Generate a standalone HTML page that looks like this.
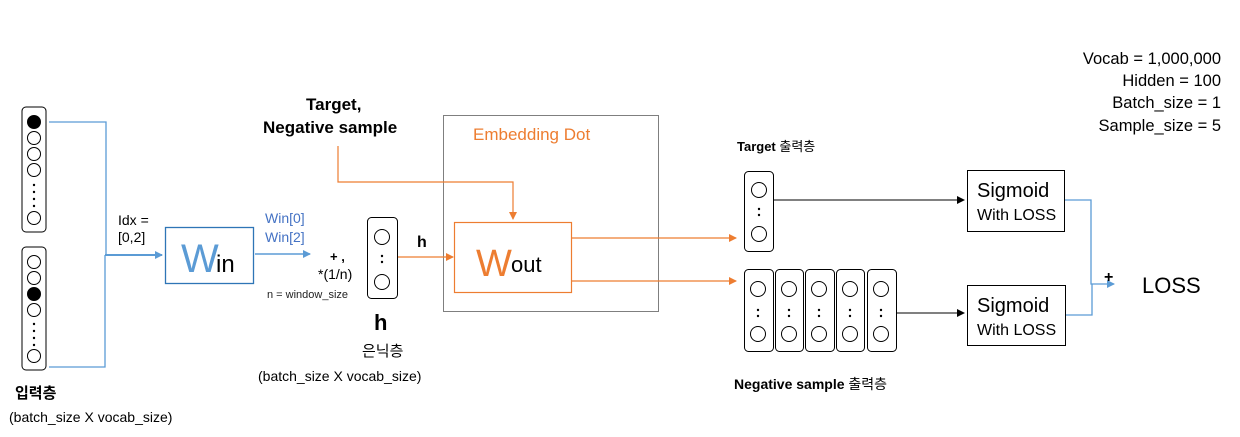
<!DOCTYPE html>
<html><head><meta charset="utf-8"><style>
body{margin:0;background:#fff;}
svg{display:block;font-family:"Liberation Sans","Noto Sans CJK KR",sans-serif;}
</style></head><body>
<svg width="1240" height="437" viewBox="0 0 1240 437" xmlns="http://www.w3.org/2000/svg">
<defs>
<marker id="ab" markerWidth="8" markerHeight="8" refX="7" refY="4" orient="auto" markerUnits="userSpaceOnUse"><path d="M0,0 L8,4 L0,8z" fill="#5b9bd5"/></marker>
<marker id="ao" markerWidth="8" markerHeight="8" refX="7" refY="4" orient="auto" markerUnits="userSpaceOnUse"><path d="M0,0 L8,4 L0,8z" fill="#ed7d31"/></marker>
<marker id="ak" markerWidth="8" markerHeight="8" refX="7" refY="4" orient="auto" markerUnits="userSpaceOnUse"><path d="M0,0 L8,4 L0,8z" fill="#000"/></marker>
</defs>
<g fill="none" stroke="#000" stroke-width="1">
<rect x="22" y="107" width="24" height="125" rx="4"/>
<rect x="22" y="247" width="24" height="123" rx="4"/>
<circle cx="34" cy="122" r="6.5" fill="#000"/><circle cx="34" cy="138" r="6.5"/><circle cx="34" cy="154" r="6.5"/><circle cx="34" cy="170" r="6.5"/><circle cx="34" cy="218" r="6.5"/>
<circle cx="34" cy="262" r="6.5"/><circle cx="34" cy="278" r="6.5"/><circle cx="34" cy="294" r="6.5" fill="#000"/><circle cx="34" cy="310" r="6.5"/><circle cx="34" cy="356" r="6.5"/>
</g>
<g fill="#000">
<circle cx="34" cy="185" r="1.2"/><circle cx="34" cy="192" r="1.2"/><circle cx="34" cy="199" r="1.2"/><circle cx="34" cy="206" r="1.2"/>
<circle cx="34" cy="324" r="1.2"/><circle cx="34" cy="331" r="1.2"/><circle cx="34" cy="338" r="1.2"/><circle cx="34" cy="345" r="1.2"/>
</g>
<g fill="none" stroke="#5b9bd5" stroke-width="1.3">
<polyline points="49,122 106,122 106,255"/>
<polyline points="49,367 105,367 105,255"/>
<line x1="105" y1="255" x2="162" y2="255" marker-end="url(#ab)" stroke-width="2"/>
<line x1="255" y1="254" x2="310" y2="254" marker-end="url(#ab)" stroke-width="1.5"/>
<polyline points="1064,200 1091,200 1091,284 1114,284" marker-end="url(#ab)"/>
<polyline points="1066,315 1092,315 1092,284"/>
</g>
<rect x="165.5" y="227.5" width="88" height="56" fill="none" stroke="#2e75b6" stroke-width="1.3"/>
<text x="181" y="272" font-size="40" fill="#5b9bd5">W</text><text x="216" y="272" font-size="24">in</text>
<text x="118" y="225" font-size="14">Idx =</text><text x="118" y="242" font-size="14">[0,2]</text>
<text x="265" y="223" font-size="14" fill="#4472c4">Win[0]</text><text x="265" y="242" font-size="14" fill="#4472c4">Win[2]</text>
<text x="330" y="261" font-size="13" font-weight="bold">+ ,</text>
<text x="318" y="279" font-size="14">*(1/n)</text>
<text x="267" y="298" font-size="11" fill="#222">n = window_size</text>
<g fill="none" stroke="#000"><rect x="367.5" y="217.5" width="30" height="81" rx="4"/><circle cx="382" cy="237" r="7.5"/><circle cx="382" cy="282" r="7.5"/></g>
<circle cx="382" cy="256" r="1.2"/><circle cx="382" cy="262" r="1.2"/>
<text x="417" y="247" font-size="16" font-weight="bold">h</text>
<text x="374" y="330" font-size="22" font-weight="bold">h</text>
<text x="362" y="356" font-size="15">은닉층</text>
<text x="258" y="381" font-size="14">(batch_size X vocab_size)</text>
<text x="15" y="398" font-size="15" font-weight="bold">입력층</text>
<text x="9" y="422" font-size="14">(batch_size X vocab_size)</text>
<text x="306" y="110" font-size="17" font-weight="bold">Target,</text>
<text x="263" y="133" font-size="17" font-weight="bold">Negative sample</text>
<rect x="443.5" y="115.5" width="215" height="196" fill="none" stroke="#7f7f7f"/>
<text x="473" y="140" font-size="17" fill="#ed7d31">Embedding Dot</text>
<rect x="454.5" y="222.5" width="117" height="70" fill="none" stroke="#ed7d31" stroke-width="1.2"/>
<text x="476" y="276" font-size="38" fill="#ed7d31">W</text><text x="511" y="272" font-size="22">out</text>
<g fill="none" stroke="#ed7d31" stroke-width="1.2">
<polyline points="338,146 338,182 513,182 513,219" marker-end="url(#ao)"/>
<line x1="398" y1="257" x2="453" y2="257" marker-end="url(#ao)"/>
<line x1="572" y1="238" x2="736" y2="238" marker-end="url(#ao)"/>
<line x1="572" y1="281" x2="736" y2="281" marker-end="url(#ao)"/>
</g>
<text x="737" y="151" font-size="13" font-weight="bold">Target <tspan font-weight="normal">출력층</tspan></text>
<g fill="none" stroke="#000">
<rect x="744.5" y="171.5" width="29" height="80" rx="4"/><circle cx="759" cy="190" r="7.5"/><circle cx="759" cy="234" r="7.5"/>
<rect x="744.5" y="269.5" width="29" height="82" rx="4"/><circle cx="758" cy="289" r="7.5"/><circle cx="758" cy="334" r="7.5"/>
<rect x="775.5" y="269.5" width="28" height="82" rx="4"/><circle cx="789" cy="289" r="7.5"/><circle cx="789" cy="334" r="7.5"/>
<rect x="805.5" y="269.5" width="29" height="82" rx="4"/><circle cx="819" cy="289" r="7.5"/><circle cx="819" cy="334" r="7.5"/>
<rect x="836.5" y="269.5" width="28" height="82" rx="4"/><circle cx="850" cy="289" r="7.5"/><circle cx="850" cy="334" r="7.5"/>
<rect x="867.5" y="269.5" width="29" height="82" rx="4"/><circle cx="881" cy="289" r="7.5"/><circle cx="881" cy="334" r="7.5"/>
<line x1="774" y1="200" x2="964" y2="200" marker-end="url(#ak)"/>
<line x1="897" y1="313" x2="964" y2="313" marker-end="url(#ak)"/>
<rect x="967.5" y="170.5" width="97" height="61"/>
<rect x="967.5" y="285.5" width="98" height="60"/>
</g>
<g fill="#000">
<circle cx="759" cy="209" r="1.2"/><circle cx="759" cy="215" r="1.2"/>
<circle cx="758" cy="310" r="1.2"/><circle cx="758" cy="316" r="1.2"/>
<circle cx="789" cy="310" r="1.2"/><circle cx="789" cy="316" r="1.2"/>
<circle cx="819" cy="310" r="1.2"/><circle cx="819" cy="316" r="1.2"/>
<circle cx="850" cy="310" r="1.2"/><circle cx="850" cy="316" r="1.2"/>
<circle cx="881" cy="310" r="1.2"/><circle cx="881" cy="316" r="1.2"/>
</g>
<text x="977" y="197" font-size="20">Sigmoid</text><text x="977" y="220" font-size="16">With LOSS</text>
<text x="977" y="312" font-size="20">Sigmoid</text><text x="977" y="335" font-size="16">With LOSS</text>
<text x="1104" y="282" font-size="16" font-weight="bold">+</text>
<text x="1142" y="293" font-size="22">LOSS</text>
<text x="734" y="389" font-size="14" font-weight="bold">Negative sample <tspan font-weight="normal">출력층</tspan></text>
<g font-size="16.5" text-anchor="end">
<text x="1221" y="64">Vocab = 1,000,000</text>
<text x="1221" y="86">Hidden = 100</text>
<text x="1221" y="108">Batch_size = 1</text>
<text x="1221" y="131">Sample_size = 5</text>
</g>
</svg>
</body></html>
